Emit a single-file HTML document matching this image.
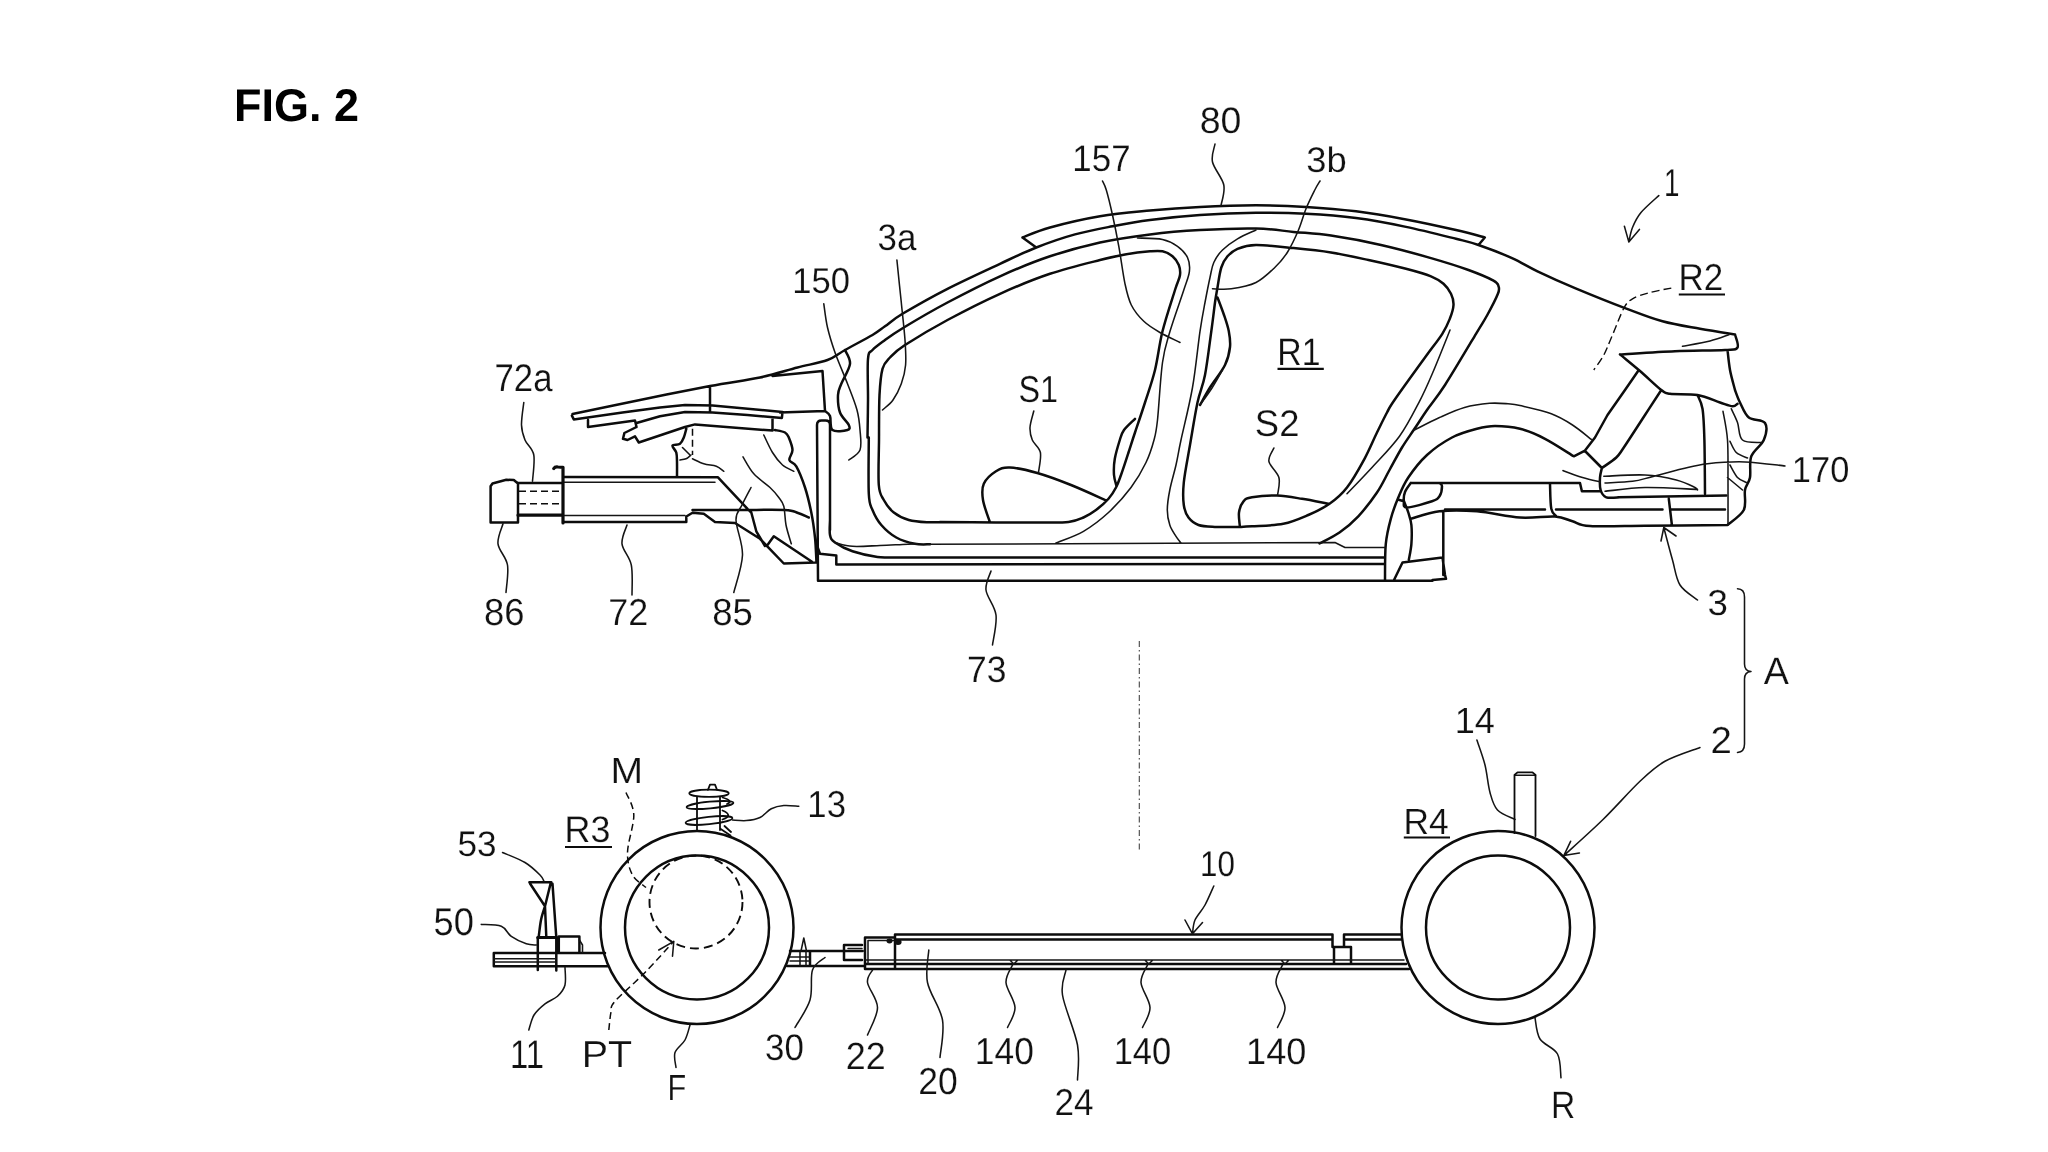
<!DOCTYPE html>
<html><head><meta charset="utf-8"><title>FIG. 2</title>
<style>
html,body{margin:0;padding:0;background:#fff;}
body{width:2048px;height:1152px;overflow:hidden;position:relative;font-family:"Liberation Sans",sans-serif;}
svg{position:absolute;left:0;top:0;display:block;filter:grayscale(1);}
path,circle,ellipse{fill:none;stroke:#0c0c0c;stroke-linecap:round;stroke-linejoin:round;}
.m{stroke-width:2.5;}
.k{stroke-width:3.2;}
.t{stroke-width:1.55;stroke:#151515;}
.sp{stroke-width:1.8;}
.ul{stroke-width:2.2;stroke-linecap:butt;}
.dsh{stroke-width:1.5;stroke-dasharray:7 4;stroke-linecap:butt;}
.dM{stroke-width:1.9;stroke-dasharray:9 5;stroke-linecap:butt;}
.dd{stroke-width:1.4;stroke-dasharray:8 4;stroke-linecap:butt;}
.cl{stroke-width:1.1;stroke-dasharray:6 3 1.5 3;stroke-linecap:butt;stroke:#444;}
text{font-family:"Liberation Sans",sans-serif;font-size:38px;fill:#111;stroke:#fff;stroke-width:0.2px;text-rendering:geometricPrecision;}
text.ttl{font-weight:bold;fill:#000;stroke:none;}
</style></head><body>
<svg width="2048" height="1152" viewBox="0 0 2048 1152">
<path class="m" d="M1022.5,237.5 C1027.1,235.8 1037.1,231 1050,227.5 C1062.9,224 1083.3,219.1 1100,216.3 C1116.7,213.5 1133.3,212.2 1150,210.6 C1166.7,209 1182.3,207.8 1200,206.9 C1217.7,206 1238.3,205.3 1256,205.3 C1273.7,205.3 1289.3,205.9 1306,206.9 C1322.7,207.9 1339.3,209.2 1356,211.3 C1372.7,213.4 1389.3,216.3 1406,219.4 C1422.7,222.5 1442.9,227 1456,230 C1469.1,233 1480,236.2 1484.8,237.5 M1022.5,237.5 L1036.3,247.5 M1484.8,237.5 L1478.5,245 M572.5,414 C583.8,411.7 617.1,404.7 640,400 C662.9,395.3 690,389.8 710,386 C730,382.2 745.4,380.6 760,377.5 C774.6,374.4 786.2,370.4 797.5,367.5 C808.8,364.6 819.6,362.9 827.5,360 C835.4,357.1 837.5,354.2 845,350 C852.5,345.8 865.8,338.9 872.5,335 C879.2,331.1 880,329.8 885,326.3 C890,322.8 892.1,320.1 902.5,313.8 C912.9,307.6 931.2,297.1 947.5,288.8 C963.8,280.5 985.2,270.7 1000,263.8 C1014.8,256.9 1023.8,252.4 1036.3,247.5 C1048.8,242.6 1062.3,237.9 1075,234.4 C1087.7,230.9 1100,228.7 1112.5,226.3 C1125,223.9 1135.4,221.9 1150,220 C1164.6,218.1 1182.3,216.2 1200,215 C1217.7,213.8 1238.3,213 1256,212.8 C1273.7,212.6 1289.3,212.9 1306,213.8 C1322.7,214.7 1339.3,215.9 1356,218.1 C1372.7,220.3 1389.3,223.4 1406,226.9 C1422.7,230.4 1443.9,235.8 1456,238.8 C1468.1,241.8 1469.2,241.8 1478.5,245 C1487.8,248.2 1502.2,253.7 1512,258.1 C1521.8,262.5 1527,266.3 1537.5,271.3 C1548,276.3 1560.4,282 1575,288.1 C1589.6,294.2 1610.4,302.6 1625,308.1 C1639.6,313.6 1650,317.9 1662.5,321.3 C1675,324.8 1687.9,326.6 1700,328.8 C1712.1,331 1729.2,333.5 1735,334.4 M867.5,437.5 C867.6,431.2 867.9,413.1 868,400 C868.1,386.9 867.2,367.1 868,358.8 C868.8,350.5 869.7,353.1 872.5,350 C875.3,346.9 879.8,343.8 885,340 C890.2,336.2 893.4,333.8 903.8,327.5 C914.2,321.2 931.5,311 947.5,302.5 C963.5,294 982.9,284 1000,276.3 C1017.1,268.6 1033.3,261.9 1050,256.3 C1066.7,250.7 1083.3,246.2 1100,242.5 C1116.7,238.8 1133.3,236.5 1150,234.4 C1166.7,232.3 1182.3,231 1200,230 C1217.7,229 1240.4,228.2 1256,228.5 C1271.6,228.8 1281,230.7 1293.5,231.9 C1306,233.1 1316.4,233.4 1331,235.6 C1345.6,237.8 1364.3,241.2 1381,245 C1397.7,248.8 1416.4,253.9 1431,258.1 C1445.6,262.3 1458.1,266.2 1468.5,270 C1478.9,273.8 1488.5,277.9 1493.5,280.6 C1498.5,283.3 1497.8,284.1 1498.5,286.3 C1499.2,288.5 1499.8,289 1497.9,293.8 C1496,298.6 1491,308.3 1487.3,315 C1483.6,321.7 1483,322.1 1476,333.8 C1469,345.5 1453.2,372.3 1445,385 C1436.8,397.7 1432.1,402.7 1427,410 C1421.9,417.3 1418.7,422.6 1414.5,428.8 C1410.3,435.1 1406.2,440.6 1402,447.5 C1397.8,454.4 1393.7,462.5 1389.5,470 C1385.3,477.5 1382.2,484.8 1377,492.5 C1371.8,500.2 1364.5,509.6 1358.3,516.3 C1352,523 1346,528 1339.5,532.5 C1333,537 1322.8,541.7 1319.5,543.5 M940,522 C949.3,522.1 979.3,522.4 996,522.5 C1012.7,522.6 1027.9,522.6 1040,522.5 C1052.1,522.4 1061.2,522.8 1068.5,522 C1075.8,521.2 1078.9,519.5 1083.5,517.5 C1088.1,515.5 1091.8,513.1 1096,510 C1100.2,506.9 1105.2,502.6 1108.5,498.8 C1111.8,495.1 1113.9,491.5 1116,487.5 C1118.1,483.5 1118.9,480.8 1121,475 C1123.1,469.2 1126.2,459.6 1128.5,452.5 C1130.8,445.4 1132.2,440.8 1135,432.5 C1137.8,424.2 1141.7,412.9 1145,402.5 C1148.3,392.1 1152.1,381.9 1155,370 C1157.9,358.1 1159.2,344.6 1162.5,331.3 C1165.8,318 1172.1,299.4 1175,290 C1177.9,280.6 1179.4,279.2 1180,275 C1180.6,270.8 1180,268.1 1178.8,265 C1177.5,261.9 1175.2,258.6 1172.5,256.3 C1169.8,254 1166.2,252.1 1162.5,251.3 C1158.8,250.5 1156.2,250.8 1150,251.3 C1143.8,251.8 1133.3,253 1125,254.4 C1116.7,255.8 1112.5,256.8 1100,260 C1087.5,263.2 1066.7,268.2 1050,273.8 C1033.3,279.4 1017.1,286.1 1000,293.8 C982.9,301.5 963.3,311.5 947.5,320 C931.7,328.5 914.6,338.8 905,345 C895.4,351.2 893.8,353.5 890,357.5 C886.2,361.5 884.2,362.6 882.5,368.8 C880.8,375.1 880.1,383.1 879.5,395 C878.9,406.9 879.1,425 879,440 C878.9,455 878,475 878.8,485 C879.6,495 881.3,495.4 883.8,500 C886.3,504.6 889.6,509.2 893.8,512.5 C898,515.8 903.2,518.4 908.8,520 C914.4,521.6 922.3,522 927.5,522.3 C932.7,522.6 937.9,522 940,522 M868.8,437.5 C868.8,446.9 868.2,481.7 868.8,493.8 C869.4,505.9 870.4,504.8 872.5,510 C874.6,515.2 877.3,520.4 881.3,525 C885.3,529.6 890.7,534.4 896.3,537.5 C901.9,540.6 909.4,542.7 915,543.8 C920.6,544.9 927.5,544.2 930,544.3 M1240,527 C1235.8,527 1221.7,527.2 1214.8,526.9 C1207.9,526.6 1202.9,526.6 1198.5,525 C1194.1,523.4 1191,520.8 1188.5,517.5 C1186,514.2 1184.6,510.8 1183.8,505 C1183,499.2 1182.8,492.5 1183.8,482.5 C1184.8,472.5 1187.7,458.3 1190,445 C1192.3,431.7 1195,414.2 1197.5,402.5 C1200,390.8 1202.7,386.9 1205,375 C1207.3,363.1 1209.6,343.4 1211.3,331.3 C1213,319.2 1214,309.8 1215,302.5 C1216,295.2 1216.5,293.3 1217.5,287.5 C1218.5,281.7 1219.6,272.7 1221.3,267.5 C1223,262.3 1224.8,259.4 1227.5,256.3 C1230.2,253.2 1232.8,250.7 1237.5,248.8 C1242.2,246.9 1246.7,245.1 1256,245 C1265.3,244.9 1281,246.8 1293.5,248.1 C1306,249.3 1318.5,250.5 1331,252.5 C1343.5,254.5 1356,257.3 1368.5,260 C1381,262.7 1395.6,266.1 1406,268.8 C1416.4,271.5 1424.8,273.8 1431,276.3 C1437.2,278.8 1440.2,280.9 1443.5,283.8 C1446.8,286.7 1449.3,290.3 1451,293.8 C1452.7,297.3 1453.7,300.8 1453.5,305 C1453.3,309.2 1451.7,314 1449.8,318.8 C1447.9,323.6 1446.4,327.4 1442.3,333.8 C1438.2,340.2 1433,346.5 1425,357.5 C1417,368.5 1400.8,390.8 1394.5,400 C1388.2,409.2 1389.9,407.1 1387,412.5 C1384.1,417.9 1380.8,424.8 1377,432.5 C1373.2,440.2 1369.5,449.6 1364.5,458.8 C1359.5,468 1352.8,480 1347,487.5 C1341.2,495 1336,499.2 1329.5,503.8 C1323,508.4 1316,511.7 1308.3,515 C1300.6,518.3 1292.7,521.9 1283.3,523.8 C1273.9,525.7 1259.2,525.8 1252,526.3 C1244.8,526.8 1242,526.9 1240,527 M1217.5,297.5 C1218.6,300.4 1222.1,309.4 1224,315 C1225.9,320.6 1227.8,326 1228.8,331.3 C1229.8,336.6 1230.6,341.4 1230,347 C1229.4,352.6 1228.3,358.2 1225,365 C1221.7,371.8 1214.2,380.8 1210,387.5 C1205.8,394.2 1201.7,402.1 1200,405 M1135,418.8 C1133.2,420.7 1126.5,426.5 1124,430 C1121.5,433.5 1121.3,435.2 1119.8,440 C1118.3,444.8 1115.8,453 1114.8,458.8 C1113.8,464.6 1113.7,470.4 1114,475 C1114.3,479.6 1116.2,484.4 1116.6,486.3 M990,522.5 C988.8,518.8 984,506.4 983,500 C982,493.6 981.6,488.6 983.8,483.8 C986,479 991.7,474 996,471.3 C1000.3,468.6 1002.9,467.2 1009.8,467.5 C1016.7,467.8 1027.1,470.1 1037.3,473 C1047.5,475.9 1059.5,480.4 1071,485 C1082.5,489.6 1100.7,498 1106.6,500.6 M1239.8,526 C1239.7,523.8 1238.4,516.6 1239,512.5 C1239.6,508.4 1241.3,503.8 1243.5,501.3 C1245.7,498.8 1246.4,498.2 1252,497.3 C1257.6,496.4 1268.7,495.4 1277,495.6 C1285.3,495.9 1293.2,497.4 1302,498.8 C1310.8,500.2 1324.9,503 1329.5,503.8 M818,580.7 L1432.5,580.7 M836.3,564.4 L1385,564 M905,557.5 L1385,557.5 M818,580.7 L817,425 Q817,420.5 821.5,420.5 L825.5,420.5 Q830,420.5 830,425 L830,530 M830,520 C830,522.5 829.2,531.2 830,535 C830.8,538.8 831.2,539.8 835,542.5 C838.8,545.2 845.4,548.9 852.5,551.3 C859.6,553.7 868.8,555.9 877.5,556.9 C886.2,557.9 900.4,557.4 905,557.5 M816.8,545 L820,553.8 L836.3,555.5 L836.3,564.4 M1385,580 C1385.1,574 1384.8,554 1385.8,543.8 C1386.8,533.6 1388.7,526.5 1390.8,518.8 C1392.9,511.1 1395.4,504.4 1398.3,497.5 C1401.2,490.6 1403.5,484.6 1408.3,477.5 C1413.1,470.4 1419.7,461.7 1427,455 C1434.3,448.3 1443.7,441.9 1452,437.5 C1460.3,433.1 1469.8,430.7 1477,428.8 C1484.2,426.9 1487.8,426 1495,426 C1502.2,426 1511.7,426.7 1520,428.8 C1528.3,430.9 1536,434.2 1545,438.8 C1554,443.4 1569,453.4 1573.8,456.3 M1573.8,456.3 L1585,450.6 M1585,450.6 L1595,437.5 L1607.5,415 L1625,390 L1638.8,370 M1585,451 L1601.9,468 M1601.9,468 C1604.3,466.2 1612.7,460.9 1616.3,457.5 C1619.9,454.1 1619,454.6 1623.8,447.5 C1628.6,440.4 1638.8,424.6 1645,415 C1651.2,405.4 1658.6,394.2 1661.3,390 M1410.8,483 L1580,483 L1581.9,491.3 L1600,491.3 M1410.8,483 C1409.8,484.5 1406.2,488.9 1405,492 C1403.8,495.1 1403.6,498.7 1403.9,501.3 C1404.2,503.9 1402.3,507.5 1407,507.5 C1411.7,507.5 1426.6,503.2 1432,501.3 C1437.4,499.4 1437.8,498.8 1439.5,496.3 C1441.2,493.8 1442,488.5 1442,486.3 C1442,484.1 1439.9,483.6 1439.5,483 M1399.5,500 L1404,501.3 M1404,501.3 C1404.7,503.2 1407.1,508.6 1408.3,512.5 C1409.5,516.5 1410.9,519.8 1411.4,525 C1411.9,530.2 1411.8,538 1411.4,543.8 C1411,549.6 1409.2,557.3 1408.8,560 M1410.8,518.8 C1415.6,517.5 1428.5,512.5 1439.5,511.3 C1450.5,510.1 1463.6,510.3 1477,511.3 C1490.4,512.3 1507,516.6 1520,517.5 C1533,518.4 1546.2,515.9 1555,516.5 C1563.8,517.1 1566.7,519.7 1572.5,521.3 C1578.3,522.9 1577.9,525.2 1590,526 C1602.1,526.8 1622.1,526 1645,525.8 C1667.9,525.6 1713.8,525.1 1727.5,525 M1445,509.6 L1545,509.6 M1556,509.6 L1662.5,509.6 M1671,509.6 L1725,509.6 M1618,497.3 L1726.3,495.5 M1550,483.8 C1550.2,488 1550.2,503.4 1551.3,508.8 C1552.3,514.2 1555.5,515 1556.3,516.3 M1443.3,512 L1443.3,575 M1394,580 L1402.5,562.5 L1442.5,557.5 L1445,575 L1446,578.8 L1432.5,580 M1668.8,498.8 L1671.9,525 M1697.5,395 C1698.3,397.3 1701.3,401.3 1702.5,408.8 C1703.7,416.3 1704,425.8 1704.4,440 C1704.8,454.2 1704.9,484.8 1705,493.8 M1601.9,468 C1601.6,469.6 1600.2,473.8 1600,477.5 C1599.8,481.2 1599.5,486.7 1600.6,490 C1601.6,493.3 1603.1,496.1 1606.3,497.3 C1609.5,498.5 1617.7,497.3 1620,497.3 M1735,334.4 C1735.4,336.6 1739.2,344.9 1737.5,347.5 C1735.8,350.1 1735.4,349.4 1725,350 C1714.6,350.6 1692.5,350.6 1675,351.3 C1657.5,352 1629.2,353.9 1620,354.4 M1620,354.4 C1623.3,357.2 1633.1,365.1 1640,371 C1646.9,376.9 1656.3,386.2 1661.3,390 C1666.3,393.8 1664,393 1670,393.8 C1676,394.6 1689.2,393.6 1697.5,395 C1705.8,396.4 1714.2,400.6 1720,402.5 C1725.8,404.4 1729.6,406.1 1732.5,406.3 C1735.4,406.5 1736.7,404.2 1737.5,403.8 M1735,390 C1735.8,392.1 1737.7,397.9 1740,402.5 C1742.3,407.1 1744.6,414.1 1748.8,417.5 C1753,420.9 1762.5,419.2 1765,423 C1767.5,426.8 1766.1,434.4 1763.8,440 C1761.5,445.6 1753.6,450.1 1751.3,456.3 C1749,462.6 1751,471.9 1750,477.5 C1749,483.1 1746,484.6 1745,490 C1744,495.4 1746.7,504.2 1743.8,510 C1740.9,515.8 1730.2,522.5 1727.5,525 M1727.5,350 C1727.9,353.3 1728.8,363.3 1730,370 C1731.2,376.7 1734.2,386.7 1735,390 M518,522.5 L490.6,522.5 L490.6,486.3 L492.5,483.5 L506.3,479.8 L513.8,480 L518,483.5 L518,522.5 M518,483 L562,483 M563.8,476.9 L718,477.3 L747.5,508.8 L751.3,512.5 L756.3,531.3 L765,546 M563.8,522 L686.3,522 L686.3,516.5 L688.8,515 L692.5,512.8 L703.8,513.8 L715,521.9 L735,523 L760,538.8 L783.8,563.5 L816,562.5 M692.5,510 C700.4,510 724.6,510 740,510 C755.4,510 775.3,509.5 785,510 C794.7,510.5 794,511.8 798,513 C802,514.2 807,516.8 808.8,517.5 M767.5,545 L773.8,536.3 L812,561.8 M571.9,415.6 L573.8,419.4 L622.5,412.5 L660,407.5 L685,405 L712.5,405.6 L782.5,411.9 L781.9,418 M588,420 L588,427 L635,420.5 L636.5,427 M636.5,423 L660,416.3 L685,411.9 L712.5,412.5 L747.5,415 L781.9,418 M772.5,417.5 L772.5,430.6 M636.5,427 L624.4,433 L623,438.8 L627.5,440 L635,436.3 L638.8,442.5 L685,427 L695,424.4 L772.5,430.6 M710,386 L710,412 M772.5,376 L822.5,371 L825,411 L780,412.5 M825,411 C825.8,411.8 828.8,412.8 830,416 C831.2,419.2 829.6,427.7 832.5,430 C835.4,432.3 844.8,430.8 847.5,430 C850.2,429.2 850,427.9 848.8,425 C847.5,422.1 841.8,417.5 840,412.5 C838.2,407.5 837.8,399.8 838,395 C838.2,390.2 839.3,389 841.3,383.8 C843.3,378.6 849.4,369.4 850,363.8 C850.6,358.2 845.8,352.3 845,350 M686.3,428.8 C685.9,430.2 684.8,435 683.8,437.5 C682.8,440 681.9,442.4 680,443.8 C678.1,445.2 673.1,444.2 672.5,445.6 C671.9,447.1 675.5,449.8 676.3,452.5 C677,455.2 676.9,458 677,462 C677.1,466 677,473.9 677,476.3 M775,430 C776.7,430.4 782.7,431.2 785,432.5 C787.3,433.8 787.5,434.6 788.8,437.5 C790,440.4 792.4,446.2 792.5,450 C792.6,453.8 788.8,457.3 789.4,460 C790,462.7 793.7,461.7 796.3,466.3 C798.9,470.9 802.5,479.8 805,487.5 C807.5,495.2 809.6,504.2 811.3,512.5 C813,520.8 814.1,529.2 815,537.5 C815.9,545.8 816.2,558.3 816.5,562.5 M605,953 L493.8,953 L493.8,966.3 L607.5,966.3 M537.8,937.5 L537.8,970 M556.3,937.5 L556.3,970.5 M558.8,953 L558.8,936.5 L579.4,936.5 L579.4,953 M529.4,882.3 L551.3,882.3 M530,883.5 L545,906.3 L550.6,883.5 M545,906.3 C544.3,908.6 542,915 541,920 C540,925 539.2,933.3 538.8,936 M545,906.3 L546.3,937 M552.5,883.8 L556.3,937.5 M790,951 L862.5,951 M787,966 L865,966 M810,951 L810,966 M862,945 L844,945 L844,960 L862,960 M865,969 L865,937.5 L895,937.5 M895,934.5 L895,969 M895,934.5 L1332.5,934.5 L1332.5,947 M895,939.5 L1332.5,939.5 M1344,947 L1344,934.5 L1401.5,934.5 M1344,939.5 L1401,939.5 M865,964 L1406,964 M865,969 L1409,969 M1334,964 L1334,947 L1351,947 L1351,964"/>
<path class="t" d="M1137.5,238 C1141.7,238.2 1155.8,238 1162.5,239.4 C1169.2,240.8 1173.3,243.3 1177.5,246.3 C1181.7,249.3 1185.5,253.3 1187.5,257.5 C1189.5,261.7 1190,265.9 1189.4,271.3 C1188.8,276.7 1187,280 1183.8,290 C1180.6,300 1173.5,319.2 1170,331.3 C1166.5,343.4 1164.6,347.7 1162.5,362.5 C1160.4,377.3 1158.9,407.1 1157.5,420 C1156.1,432.9 1155.9,432.9 1154,440 C1152.1,447.1 1149.8,454.6 1146,462.5 C1142.2,470.4 1137.2,479.2 1131,487.5 C1124.8,495.8 1116.4,505.2 1108.5,512.5 C1100.6,519.8 1092.2,526.2 1083.5,531.3 C1074.8,536.4 1060.6,541 1056,543 M1256,230 C1252.9,231.5 1243.1,235.5 1237.5,238.8 C1231.9,242.1 1226.5,246.1 1222.5,250 C1218.5,253.9 1215.9,257.9 1213.8,262.5 C1211.7,267.1 1211.5,270.8 1210,277.5 C1208.5,284.2 1206.7,293.5 1205,302.5 C1203.3,311.5 1202.1,317.1 1200,331.3 C1197.9,345.5 1195.7,369.4 1192.5,387.5 C1189.3,405.6 1183.8,427.1 1181,440 C1178.2,452.9 1177.9,456.7 1176,465 C1174.1,473.3 1171.2,482.5 1169.8,490 C1168.3,497.5 1167.3,504.2 1167.3,510 C1167.3,515.8 1168.3,520.6 1169.8,525 C1171.2,529.4 1174.1,533.3 1176,536.3 C1177.9,539.3 1180.2,541.9 1181,543 M1450,330 C1447.2,337 1438.1,360.1 1433,372 C1427.9,383.9 1425.1,390.6 1419.5,401.3 C1413.9,412 1407.4,425.3 1399.5,436.3 C1391.6,447.3 1380.8,457.9 1372,467.5 C1363.2,477.1 1351.2,489.4 1347,493.8 M1200,405 C1202,402.2 1208.2,393.8 1212,388 C1215.8,382.2 1220.8,373 1222.5,370 M928,544.3 L1335,542.5 L1345,547.5 L1385,547.5 M835,542.5 C837.9,543.1 845,545.8 852.5,546.3 C860,546.8 871.7,545.8 880,545.5 C888.3,545.2 896.2,544.7 902.5,544.4 C908.8,544.1 915,543.9 917.5,543.8 M1414.5,430 C1418.7,427.9 1431.2,421.2 1439.5,417.5 C1447.8,413.8 1456.2,409.9 1464.5,407.5 C1472.8,405.1 1482.2,403.9 1489.5,403.3 C1496.8,402.7 1502.9,403.4 1508,403.8 C1513.1,404.2 1512.8,403.9 1520,405.6 C1527.2,407.3 1542.5,410.6 1551.3,413.8 C1560,417 1565.8,420.7 1572.5,425 C1579.2,429.3 1588.2,437 1591.3,439.4 M1723,411.3 C1723.8,416.1 1726.7,428.6 1727.5,440 C1728.3,451.4 1727.9,465.8 1728,480 C1728.1,494.2 1728,517.5 1728,525 M1603.8,476.3 C1610.7,476.1 1632.9,474.4 1645,475 C1657.1,475.6 1668,477.9 1676.3,480 C1684.6,482.1 1691.5,485.8 1695,487.5 C1698.5,489.2 1697.1,489.6 1697.5,490 M1563,470.6 C1566.2,471.8 1576.3,475.6 1582.5,477.5 C1588.7,479.4 1597.1,481.2 1600,481.9 M1605,491.3 C1611.7,490.7 1629.6,487.8 1645,487.5 C1660.4,487.2 1688.8,489.1 1697.5,489.4 M1682.5,346.3 C1687.1,345.4 1702.3,342.9 1710,341 C1717.7,339.1 1725.7,335.8 1728.8,334.8 M1731.3,408.8 C1732.3,411.1 1735.6,417.3 1737.5,422.5 C1739.4,427.7 1738.5,436.7 1742.5,440 C1746.5,443.3 1758.2,442.1 1761.3,442.5 M1730,441.3 C1731,443.2 1733.4,449.7 1736.3,452.5 C1739.2,455.3 1745.6,457.1 1747.5,458 M1730,465 C1731.2,467.1 1734.8,474.6 1737.5,477.5 C1740.2,480.4 1744.8,481.7 1746.3,482.5 M1727.5,477.5 L1742.5,490 M563.8,482.3 L715,482.3 M563.8,515.5 L685,515.5 M692.5,458.8 C694.4,459.6 699.8,462.6 703.8,463.8 C707.8,465.1 713,465.1 716.3,466.3 C719.6,467.6 722.5,470.5 723.8,471.3 M682.5,447.5 L690,455 M680,460 C681,459.8 684.2,459.6 686,458.8 C687.8,458 690.2,455.6 691,455 M763.8,435 C765.2,437.9 769.4,447.5 772.5,452.5 C775.6,457.5 779,461.9 782.5,465 C786,468.1 791.9,470.2 793.8,471.3 M743,456.9 C744.8,459.7 749.3,468.7 753.8,473.8 C758.3,478.9 765.8,483.6 770,487.5 C774.2,491.4 776.5,494.4 778.8,497.5 C781.1,500.6 782.6,501.7 783.8,506.3 C785,510.9 784.8,518.8 786,525 C787.2,531.2 790.4,540.7 791.3,543.8 M1515,775.3 L1535.5,775.3 M493.8,958.8 L556,958.8 M493.8,962 L556,962 M579.4,940 L582.5,945 L582.5,952.5 M790,957 L810,957 M790,961 L810,961 M800,951 L800,966 M806,951 L806,966 M801,951 L803.8,938 L806.5,951 M848,948.5 L862,948.5 M868,940.5 L895,940.5 M868,940.5 L868,964 M865,960 L1404,960 M1009.8,960 L1013.8,964 L1017.8,960 M1144.8,960 L1148.8,964 L1152.8,960 M1281,960 L1285,964 L1289,960 M523.8,402.5 C523.4,406.2 521.3,418.8 521.5,425 C521.7,431.2 523,435 525,440 C527,445 532.5,448.1 533.8,455 C535,461.9 532.7,476.9 532.5,481.3 M503,523.8 C502.2,527.1 497.2,536.9 498,543.8 C498.8,550.7 506.2,556.9 507.5,565 C508.8,573.1 506.2,587.9 506,592.5 M627,525 C626.2,528.1 621.3,537.1 622,543.8 C622.7,550.5 629.6,556.5 631.3,565 C633,573.5 631.9,590 632,595 M751,487.5 C749.5,490.4 744.5,499.6 742,505 C739.5,510.4 735.9,511.7 736,520 C736.1,528.3 742.9,542.9 742.5,555 C742.1,567.1 735.2,586.2 733.8,592.5 M823.8,303.8 C824.4,307.8 825.6,319.4 827.5,327.5 C829.4,335.6 831.7,343.1 835,352.5 C838.3,361.9 843.8,374.2 847.5,383.8 C851.2,393.4 854.9,402.3 857,410 C859.1,417.7 859.5,423.3 860,430 C860.5,436.7 861.9,445 860,450 C858.1,455 850.7,458.3 848.8,460 M896.9,260 C897.6,267.1 899.9,289.2 901.3,302.5 C902.6,315.8 904.3,329.6 905,340 C905.7,350.4 906.2,357.7 905.6,365 C905,372.3 903.4,378 901.3,383.8 C899.2,389.6 896.1,395.6 893,400 C889.9,404.4 884.2,408.3 882.5,410 M1215,144 C1214.6,147 1211,155.2 1212.5,162 C1214,168.8 1222.4,177.8 1223.8,185 C1225.2,192.2 1221.5,202.1 1221,205.5 M1102.5,181 C1103.1,182.5 1104.6,184.3 1106.3,190 C1108,195.7 1110.4,205.6 1112.5,215 C1114.6,224.4 1116.7,234.8 1118.8,246.3 C1120.9,257.8 1122.9,274 1125,283.8 C1127.1,293.6 1128.2,298.8 1131.3,305 C1134.4,311.2 1139,316.7 1143.8,321.3 C1148.6,325.9 1154,329 1160,332.5 C1166,336 1176.7,340.8 1180,342.5 M1320,181 C1319.1,182.5 1317.1,185.4 1314.8,190 C1312.5,194.6 1308.7,202.1 1306,208.8 C1303.3,215.5 1301.6,222.7 1298.5,230 C1295.4,237.3 1291.2,246.2 1287.3,252.5 C1283.3,258.8 1280,262.5 1274.8,267.5 C1269.6,272.5 1263.2,278.9 1256,282.5 C1248.8,286.1 1238.5,287.8 1231.3,288.8 C1224,289.9 1215.6,288.8 1212.5,288.8 M1658.8,195.6 C1655.8,198.4 1645.4,207.2 1641,212.5 C1636.6,217.8 1634.5,222.6 1632.5,227.5 C1630.5,232.4 1629.4,239.5 1628.8,241.9 M1624.4,226.3 L1628.8,241.9 L1639.4,229.4 M1785,466 C1778.3,465.3 1757.9,462.3 1745,461.9 C1732.1,461.5 1717.9,462.6 1707.5,463.8 C1697.1,465 1691.9,466.6 1682.5,468.8 C1673.1,471 1659.6,474.8 1651.3,476.9 C1643,479 1640.2,480.3 1632.5,481.3 C1624.8,482.3 1609.6,482.7 1605,483 M1033.8,411 C1033.2,413.8 1030.2,422.7 1030,427.5 C1029.8,432.3 1030.6,435.8 1032.3,440 C1034,444.2 1039.4,447.1 1040.4,452.5 C1041.4,457.9 1038.8,469.2 1038.5,472.5 M1273.9,448 C1273.1,450.2 1268.1,456.4 1268.9,461.3 C1269.7,466.2 1277.5,471.9 1278.9,477.5 C1280.4,483.1 1277.8,492.1 1277.6,495 M991,571 C990.2,574.2 985.2,582.7 986,590 C986.8,597.3 994.9,605.8 996,615 C997.1,624.2 993.1,640 992.5,645 M1697.5,600 C1694.6,597.5 1684.2,591.7 1680,585 C1675.8,578.3 1675.2,569.6 1672.5,560 C1669.8,550.4 1665.2,532.9 1663.8,527.5 M1661,541 L1663.8,527.5 L1676,536 M1737.5,588.8 Q1744.5,589 1744.5,597 L1744.5,664 Q1744.5,671 1751,671.5 Q1744.5,672 1744.5,679 L1744.5,744 Q1744.5,752 1737.5,752.5 M1700,747.5 C1694.2,749.8 1675,755.7 1665,761.3 C1655,766.9 1650.4,771.5 1640,781.3 C1629.6,791.1 1615.2,807.6 1602.5,820 C1589.8,832.4 1570.2,849.7 1563.8,855.6 M1570.6,841.3 L1563.8,855.6 L1579.4,853 M1476.9,740 C1478.2,744.2 1482.8,756.2 1485,765 C1487.2,773.8 1487.9,785 1490,792.5 C1492.1,800 1493.3,805.5 1497.5,810 C1501.7,814.5 1512.1,817.8 1515,819.4 M1535,1017.8 C1535.8,1021.3 1536.2,1033 1540,1039 C1543.8,1045 1554,1047.5 1557.5,1054 C1561,1060.5 1560.4,1073.8 1561,1077.8 M481.3,924.4 C484.6,924.7 496.3,924.3 501.3,926.3 C506.3,928.3 507.1,933.4 511.3,936.3 C515.5,939.2 522.1,942.3 526.3,943.8 C530.5,945.2 534.6,944.8 536.3,945 M502.5,852.5 C506.2,854.2 518.8,858.8 525,862.5 C531.2,866.2 536.9,871.9 540,875 C543.1,878.1 543.2,880 543.8,881 M658.8,950 L673.8,941.3 L672.5,956.3 M565,967.5 C565,970.4 566.2,980.2 565,985 C563.8,989.8 560.8,993.2 557.5,996.3 C554.2,999.4 548.9,1000.7 545,1003.8 C541.1,1006.9 536.7,1010.6 534,1015 C531.3,1019.4 529.7,1027.5 528.8,1030 M690,1025 C689.2,1027.5 687.5,1035.4 685,1040 C682.5,1044.6 676.5,1047.9 675,1052.5 C673.5,1057.1 675.8,1065 676,1067.5 M825,957.5 C822.9,959.6 815,962.9 812.5,970 C810,977.1 812.9,990.4 810,1000 C807.1,1009.6 797.5,1022.9 795,1027.5 M872.5,970 C871.7,972.1 866.7,976.2 867.5,982.5 C868.3,988.8 877.5,998.8 877.5,1007.5 C877.5,1016.2 869.2,1030.4 867.5,1035 M928.8,950 C928.6,955.4 925.2,970.8 927.5,982.5 C929.8,994.2 940.4,1007.5 942.5,1020 C944.6,1032.5 940.4,1051.2 940,1057.5 M1012.5,965 C1011.4,967.9 1005.6,975.4 1006,982.5 C1006.4,989.6 1014.8,1000 1015,1007.5 C1015.2,1015 1008.8,1024.2 1007.5,1027.5 M1147.5,965 C1146.4,967.9 1140.6,975.4 1141,982.5 C1141.4,989.6 1149.8,1000 1150,1007.5 C1150.2,1015 1143.8,1024.2 1142.5,1027.5 M1282.5,965 C1281.4,967.9 1275.6,975.4 1276,982.5 C1276.4,989.6 1284.8,1000 1285,1007.5 C1285.2,1015 1278.8,1024.2 1277.5,1027.5 M1066,970 C1065.4,974.2 1060.6,982.5 1062.5,995 C1064.4,1007.5 1075,1030.8 1077.5,1045 C1080,1059.2 1077.5,1074.2 1077.5,1080 M1213.8,886 C1212.3,889.2 1208.1,899.3 1205,905 C1201.9,910.7 1197.1,915.2 1195,920 C1192.9,924.8 1192.9,931.5 1192.5,933.8 M1185,920 L1192.5,933.8 L1202.5,922.5 M798.8,806.3 C796.3,806.2 788.4,805.2 783.8,805.6 C779.2,806 775.3,806.8 771.3,808.8 C767.3,810.8 764.2,815.5 760,817.5 C755.8,819.5 750.9,820.2 746.3,820.6 C741.7,821 734.8,820.1 732.5,820"/>
<path class="k" d="M518,515.2 L562,515.2 M553.8,468.5 Q555,466.5 558,467 L563,467.3 L563,523 M537.8,937.5 L556.3,937.5"/>
<path class="dsh" d="M519,491.3 L562,491.3 M519,503.8 L562,503.8 M692.5,428.8 L692.5,455 M626,792.5 C627.3,796.2 633.5,805 633.8,815 C634,825 627.7,842.5 627.5,852.5 C627.3,862.5 629.4,869.2 632.5,875 C635.6,880.8 643.8,885.4 646,887.5 M608.8,1030 C609.2,1027 610,1016.8 611,1012 C612,1007.2 609.3,1007.9 615,1001.3 C620.7,994.7 635.2,982.5 645,972.5 C654.8,962.5 669,946.5 673.8,941.3"/>
<path class="sp" d="M1514.5,833 L1514.5,775 L1517.5,772.3 L1532.5,772.3 L1535.5,775 L1535.5,836 M697,797 L697,831 M720,797 L720,830 M708,789.8 L710,784.6 L715,784.6 L717,789.8 M722.5,810.5 Q734,815.5 722.5,819.5 M722.5,797.5 Q734,801 727,804 M720,828.5 L730.5,835.5 M724.5,826 L731,832"/>
<path class="dd" d="M1671.3,288.1 C1667.8,288.8 1656.5,290.7 1650,292.5 C1643.5,294.3 1636.8,296.2 1632.5,298.8 C1628.2,301.4 1627.3,302 1624,308 C1620.7,314 1615.9,327.2 1612.5,335 C1609.1,342.8 1606.9,349.2 1603.8,355 C1600.7,360.8 1595.5,367.5 1593.8,370"/>
<path class="cl" d="M1139.3,641 L1139.3,850"/>
<circle class="m" cx="697" cy="927.5" r="96.5"/><circle class="m" cx="697" cy="927.5" r="72"/>
<circle class="m" cx="1498" cy="927.5" r="96.5"/><circle class="m" cx="1498" cy="927.5" r="72"/>
<circle class="dM" cx="696" cy="902" r="46.5"/>
<ellipse class="sp" cx="709" cy="793.3" rx="19.7" ry="3.6"/><ellipse class="sp" cx="710" cy="805" rx="23.5" ry="3.3" transform="rotate(-5.5 710 805)"/><ellipse class="sp" cx="709" cy="820.5" rx="23.5" ry="3.6" transform="rotate(-6 709 820.5)"/>
<ellipse cx="898" cy="942" rx="3.6" ry="3" style="fill:#111;stroke:none"/><ellipse cx="889.5" cy="941" rx="3" ry="2.4" style="fill:#111;stroke:none"/>
<text transform="matrix(0.9872 0 0 0.9665 1199.72 132.61)">80</text>
<text transform="matrix(0.9181 0 0 0.9736 1072.34 170.91)">157</text>
<text transform="matrix(0.9566 0 0 0.9319 1306.16 171.63)">3b</text>
<text transform="matrix(0.7317 0 0 1.0268 1663.88 195.60)">1</text>
<text transform="matrix(0.9195 0 0 0.9887 1678.45 290.00)">R2</text>
<path class="ul" d="M1678.8,294.5 L1725,294.5"/>
<text transform="matrix(0.9191 0 0 0.9740 877.51 249.61)">3a</text>
<text transform="matrix(0.9103 0 0 0.9480 792.36 292.62)">150</text>
<text transform="matrix(0.9138 0 0 1.0149 494.56 390.89)">72a</text>
<text transform="matrix(0.8508 0 0 0.9851 1018.55 401.61)">S1</text>
<text transform="matrix(0.8899 0 0 1.0038 1277.24 365.00)">R1</text>
<path class="ul" d="M1277.5,368.8 L1323.8,368.8"/>
<text transform="matrix(0.9579 0 0 0.9777 1254.87 435.91)">S2</text>
<text transform="matrix(0.9052 0 0 0.9554 1791.87 481.62)">170</text>
<text transform="matrix(0.9590 0 0 0.9926 484.07 625.10)">86</text>
<text transform="matrix(0.9453 0 0 0.9887 608.20 625.00)">72</text>
<text transform="matrix(0.9615 0 0 0.9926 712.26 625.10)">85</text>
<text transform="matrix(0.9354 0 0 0.9665 967.02 681.91)">73</text>
<text transform="matrix(0.9669 0 0 0.9480 1707.45 615.12)">3</text>
<text transform="matrix(0.9921 0 0 1.0077 1763.70 683.80)">A</text>
<text transform="matrix(1.0116 0 0 0.9887 1710.58 752.50)">2</text>
<text transform="matrix(0.9503 0 0 0.9579 1454.74 732.50)">14</text>
<text transform="matrix(1.0315 0 0 0.9579 610.60 782.50)">M</text>
<text transform="matrix(0.9151 0 0 0.9851 807.35 817.11)">13</text>
<text transform="matrix(0.9429 0 0 0.9740 564.58 842.11)">R3</text>
<path class="ul" d="M565,847 L612,847"/>
<text transform="matrix(0.9300 0 0 0.9579 1403.42 833.80)">R4</text>
<path class="ul" d="M1403.8,837.5 L1450,837.5"/>
<text transform="matrix(0.9258 0 0 0.9368 457.41 856.13)">53</text>
<text transform="matrix(0.9542 0 0 1.0149 433.57 934.89)">50</text>
<text transform="matrix(0.8259 0 0 0.9368 1200.11 876.13)">10</text>
<text transform="matrix(0.8646 0 0 1.0536 509.99 1067.50)">11</text>
<text transform="matrix(1.0381 0 0 0.9847 581.78 1067.00)">PT</text>
<text transform="matrix(0.8065 0 0 0.9579 667.50 1100.00)">F</text>
<text transform="matrix(0.9188 0 0 0.9740 765.01 1059.61)">30</text>
<text transform="matrix(0.9453 0 0 1.0000 845.70 1069.00)">22</text>
<text transform="matrix(0.9332 0 0 0.9851 918.23 1093.61)">20</text>
<text transform="matrix(0.9306 0 0 0.9851 974.80 1063.61)">140</text>
<text transform="matrix(0.9086 0 0 0.9851 1113.66 1063.61)">140</text>
<text transform="matrix(0.9509 0 0 0.9740 1246.04 1063.61)">140</text>
<text transform="matrix(0.9235 0 0 0.9887 1054.55 1115.00)">24</text>
<text transform="matrix(0.8850 0 0 1.0077 1551.06 1117.80)">R</text>
<text class="ttl" transform="matrix(1.1833 0 0 1.2069 234.04 120.90)">FIG. 2</text>
</svg>
</body></html>
